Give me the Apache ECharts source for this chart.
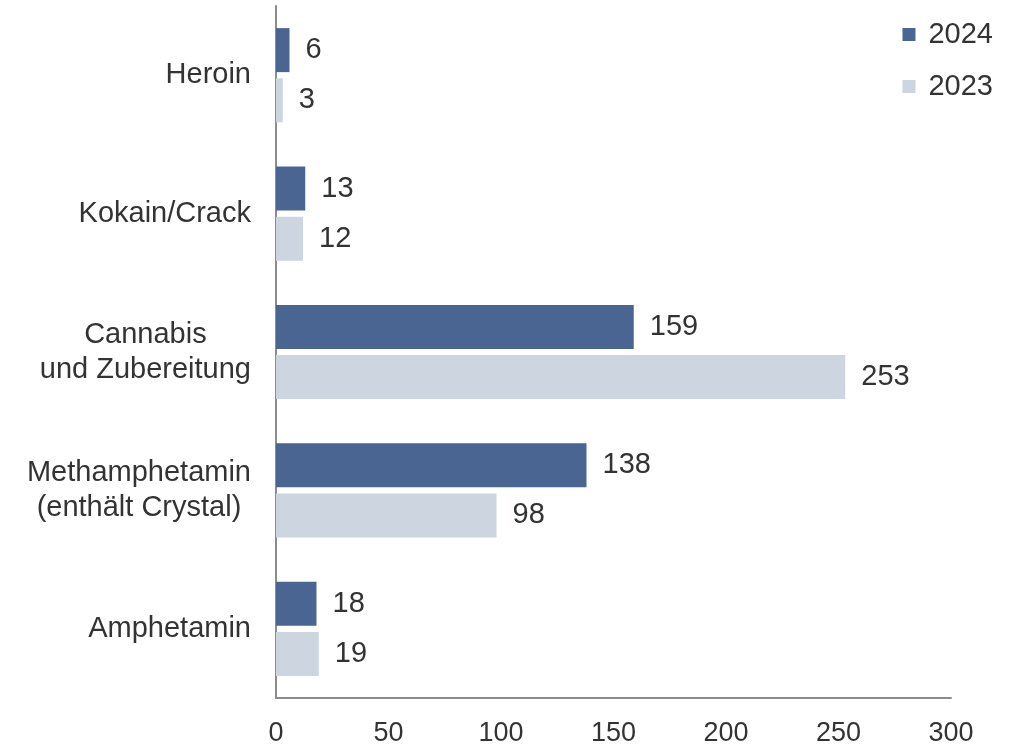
<!DOCTYPE html>
<html>
<head>
<meta charset="utf-8">
<script src="https://cdn.jsdelivr.net/npm/echarts@6/dist/echarts.min.js"></script>
<style>
  html, body { margin: 0; padding: 0; background: #fff; }
  #main { width: 1020px; height: 748px; }
</style>
</head>
<body>
<div id="main"></div>
<script>
    // Daten
    var categories = ['Heroin', 'Kokain/Crack', 'Cannabis\nund Zubereitung', 'Methamphetamin\n(enthält Crystal)', 'Amphetamin'];
    var values2024 = [6, 13, 159, 138, 18];
    var values2023 = [3, 12, 253, 98, 19];
    var xTicks = [0, 300, 50];

    var myChart = echarts.init(document.getElementById('main'));
    var font = 'Liberation Sans, Arial, sans-serif';

    var labelCfg = {
        show: true,
        position: 'right',
        distance: 16,
        fontSize: 29,
        fontFamily: font,
        color: '#333'
    };

    var option = {
        animation: false,
        textStyle: { fontFamily: font },
        legend: {
            orient: 'vertical',
            right: 22,
            top: 15,
            itemWidth: 13,
            itemHeight: 13,
            itemGap: 23,
            icon: 'rect',
            textStyle: { fontSize: 29, color: '#333', fontFamily: font, padding: [0, 0, 0, 8] },
            data: ['2024', '2023']
        },
        grid: { left: 276, right: 69, top: 6, bottom: 50, containLabel: false },
        xAxis: {
            type: 'value',
            min: xTicks[0],
            max: xTicks[1],
            interval: xTicks[2],
            axisLine: { show: true, lineStyle: { color: '#8c8c8c', width: 2 } },
            axisTick: { show: false },
            splitLine: { show: false },
            axisLabel: { fontSize: 27, color: '#333', margin: 22, fontFamily: font }
        },
        yAxis: {
            type: 'category',
            inverse: true,
            data: categories,
            axisLine: { show: true, lineStyle: { color: '#8c8c8c', width: 2 } },
            axisTick: { show: false },
            axisLabel: {
                margin: 25,
                align: 'right',
                formatter: function (v) {
                    // zeilenweise zentriert
                    return v.split('\n').map(function (s) { return '{c|' + s + '}'; }).join('\n');
                },
                rich: {
                    c: { fontSize: 29, lineHeight: 35, color: '#333', fontFamily: font, align: 'center' }
                }
            }
        },
        series: [
            {
                name: '2024',
                type: 'bar',
                data: values2024,
                barWidth: 44,
                barGap: '14%',
                itemStyle: { color: '#4a6591' },
                label: labelCfg
            },
            {
                name: '2023',
                type: 'bar',
                data: values2023,
                barWidth: 44,
                barGap: '14%',
                itemStyle: { color: '#cdd5e0' },
                label: labelCfg
            }
        ]
    };
    myChart.setOption(option);
</script>
</body>
</html>
